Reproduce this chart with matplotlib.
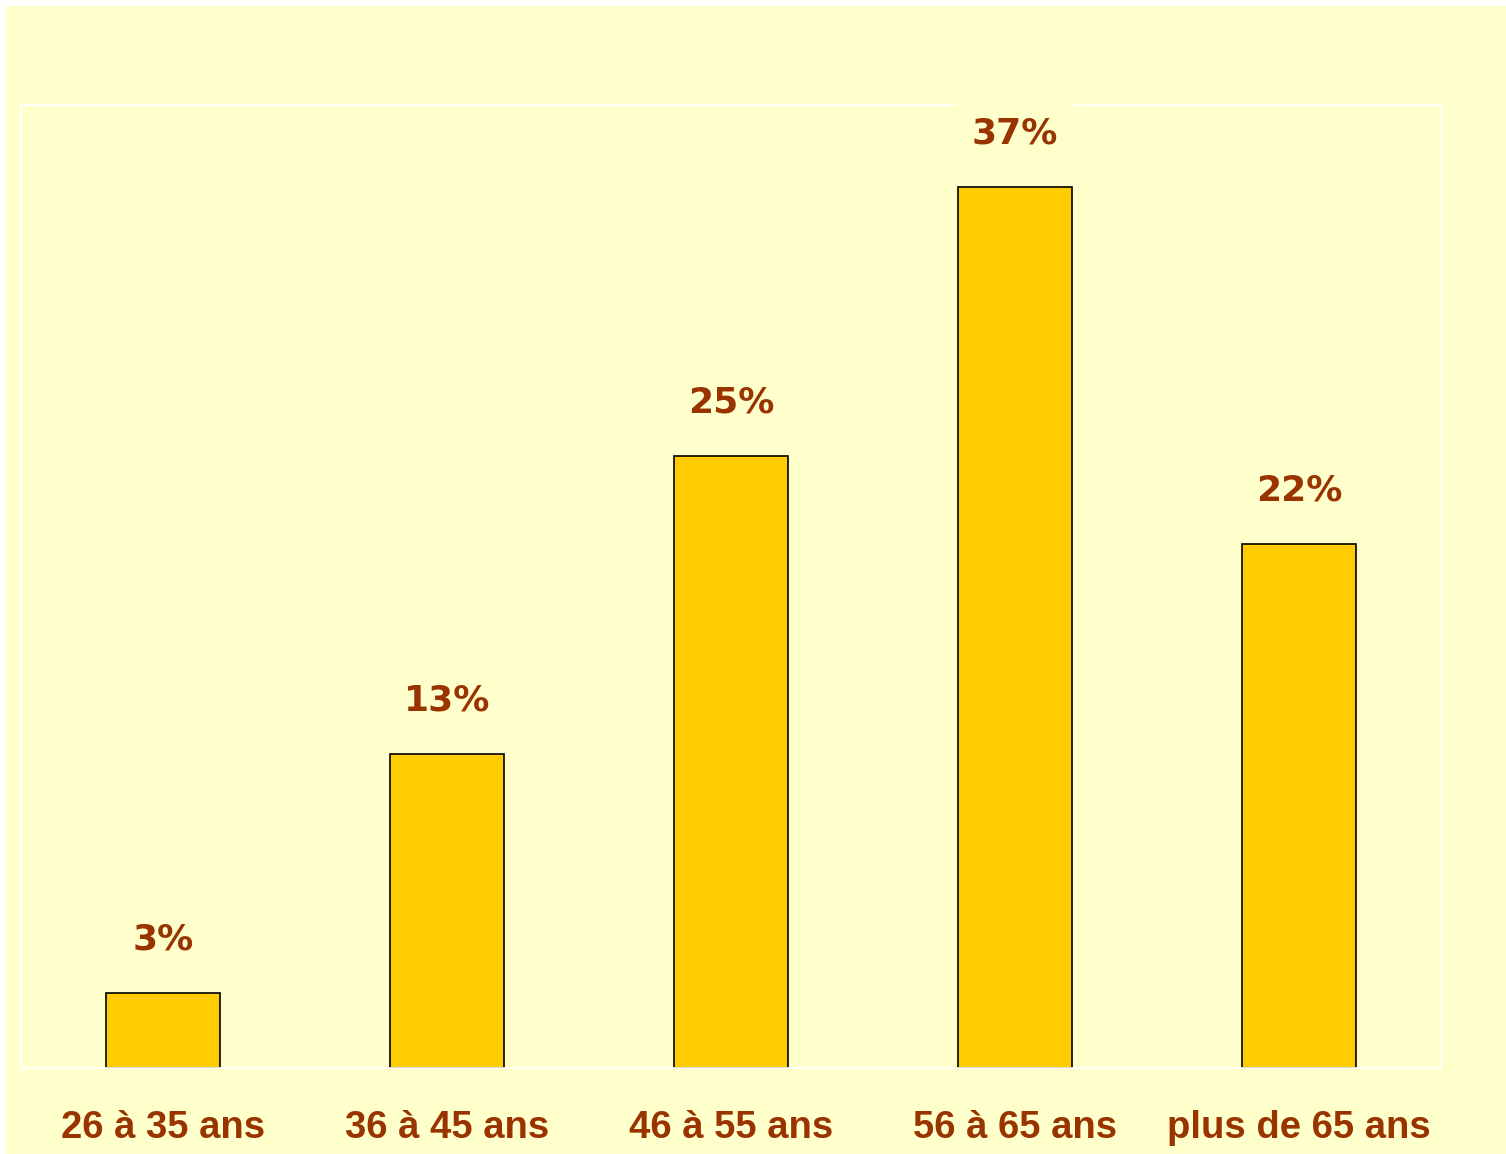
import matplotlib.pyplot as plt
from matplotlib.patches import Rectangle

# age groups and share of respondents (%)
categories = ["26 à 35 ans", "36 à 45 ans", "46 à 55 ans", "56 à 65 ans", "plus de 65 ans"]
values = [3.15, 13.2, 25.7, 37.0, 22.0]
value_labels = ["3%", "13%", "25%", "37%", "22%"]

BG = "#FFFFCC"
BAR = "#FFCC00"
TXT = "#993300"

plt.rcParams["font.family"] = ["Liberation Sans", "DejaVu Sans"]

fig = plt.figure(figsize=(15.06, 11.54), dpi=100)
fig.patch.set_facecolor("white")
fig.patches.append(Rectangle((6 / 1506, -0.01), 1.01, 1.01 - 6 / 1154,
                             transform=fig.transFigure, facecolor=BG,
                             edgecolor="none", zorder=-5))

ax = fig.add_axes([21 / 1506, 86 / 1154, 1420 / 1506, 963 / 1154])
ax.set_facecolor(BG)
for s in ax.spines.values():
    s.set_color("white")
    s.set_linewidth(1.2)

x = [i + 0.5 for i in range(len(categories))]
ax.bar(x, values, width=0.40, color=BAR, edgecolor="black", linewidth=1.2, zorder=2)

for xi, v, lab in zip(x, values, value_labels):
    ax.annotate(lab, (xi, v), xytext=(0, 38.5), textcoords="offset points",
                ha="center", va="center", fontsize=26, fontweight="bold",
                family=["DejaVu Sans"], color=TXT, zorder=4,
                bbox=dict(boxstyle="square,pad=0.42", fc=BG, ec="none"),
                annotation_clip=False)

ax.set_xlim(0, 5)
ax.set_ylim(0, 40.45)
ax.set_yticks([])
ax.set_xticks(x)
ax.set_xticklabels(categories, fontsize=27.5, fontweight="bold", color=TXT)
ax.tick_params(axis="x", length=0, pad=30)

fig.savefig("out.png", dpi=100, facecolor=fig.get_facecolor())
